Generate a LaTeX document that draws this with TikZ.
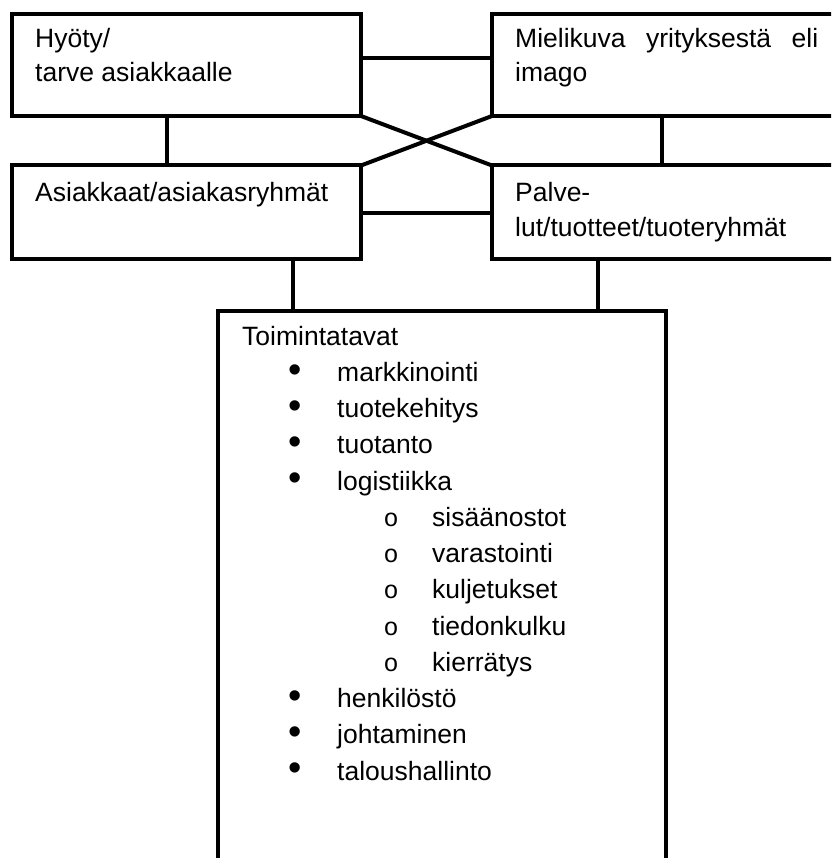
\documentclass[tikz,border=0pt]{standalone}
\usepackage{fontspec}
\setmainfont{Liberation Sans}
\newfontfamily\monofnt{Liberation Mono}
\begin{document}
\begin{tikzpicture}[x=1pt,y=-1pt,
  box/.style={draw=black, line width=4pt, rectangle, inner sep=0pt, outer sep=0pt, anchor=north west},
  conn/.style={draw=black, line width=4pt},
  txt/.style={inner sep=0pt, anchor=base west, font=\fontsize{26.5}{30}\selectfont},
  blt/.style={inner sep=0pt, anchor=center, yshift=8pt, font=\fontsize{38}{40}\selectfont},
  cbl/.style={inner sep=0pt, anchor=base, font=\monofnt\fontsize{25}{30}\selectfont}]
\useasboundingbox (0,0) rectangle (831,858);
\fill[white] (0,0) rectangle (831,858);
\clip (0,0) rectangle (831,858);
% boxes
\node[box, minimum width=349pt, minimum height=102pt] (b1) at (12,14) {};
\node[box, minimum width=358pt, minimum height=102pt] (b2) at (492,14) {};
\node[box, minimum width=349pt, minimum height=94pt] (b3) at (12,165.5) {};
\node[box, minimum width=358pt, minimum height=94pt] (b4) at (492,165.5) {};
\node[box, minimum width=448pt, minimum height=600pt] (b5) at (217.5,310.5) {};
% connector coordinates
\coordinate (v1) at (167,0);
\coordinate (v2) at (293,0);
\coordinate (v3) at (662,0);
\coordinate (v4) at (598,0);
\coordinate (h1) at (0,58);
\coordinate (h2) at (0,213.5);
\draw[conn] (b1.south -| v1) -- (b3.north -| v1);
\draw[conn] (b3.south -| v2) -- (b5.north -| v2);
\draw[conn] (b2.south -| v3) -- (b4.north -| v3);
\draw[conn] (b4.south -| v4) -- (b5.north -| v4);
\draw[conn] (b1.east |- h1) -- (b2.west |- h1);
\draw[conn] (b3.east |- h2) -- (b4.west |- h2);
\draw[conn] (b1.south east) -- (b4.north west);
\draw[conn] (b3.north east) -- (b2.south west);
% texts in top boxes
\node[txt] (t1a) at (35,48) {Hyöty/};
\node[txt] (t1b) at (35,82) {tarve asiakkaalle};
\node[txt] (t2a) at (515,48) {\makebox[303pt][s]{Mielikuva\hfill yrityksestä\hfill eli}};
\node[txt] (t2b) at (515,82) {imago};
\node[txt] (t3a) at (35,202) {Asiakkaat/asiakasryhmät};
\node[txt] (t4a) at (515,202) {Palve-};
\node[txt] (t4b) at (515,237) {lut/tuotteet/tuoteryhmät};
% list box
\node[txt] (t5) at (242,345) {Toimintatavat};
\node[blt] (p1) at (295,381.25) {•};
\node[txt] (l1) at (337,381.25) {markkinointi};
\node[blt] (p2) at (295,417.5) {•};
\node[txt] (l2) at (337,417.5) {tuotekehitys};
\node[blt] (p3) at (295,453.75) {•};
\node[txt] (l3) at (337,453.75) {tuotanto};
\node[blt] (p4) at (295,490) {•};
\node[txt] (l4) at (337,490) {logistiikka};
\node[cbl] (q1) at (391,526.25) {o};
\node[txt] (s1) at (432,526.25) {sisäänostot};
\node[cbl] (q2) at (391,562.5) {o};
\node[txt] (s2) at (432,562.5) {varastointi};
\node[cbl] (q3) at (391,598.75) {o};
\node[txt] (s3) at (432,598.75) {kuljetukset};
\node[cbl] (q4) at (391,635) {o};
\node[txt] (s4) at (432,635) {tiedonkulku};
\node[cbl] (q5) at (391,671.25) {o};
\node[txt] (s5) at (432,671.25) {kierrätys};
\node[blt] (p5) at (295,707.5) {•};
\node[txt] (l5) at (337,707.5) {henkilöstö};
\node[blt] (p6) at (295,743.75) {•};
\node[txt] (l6) at (337,743.75) {johtaminen};
\node[blt] (p7) at (295,780) {•};
\node[txt] (l7) at (337,780) {taloushallinto};
\end{tikzpicture}
\end{document}
